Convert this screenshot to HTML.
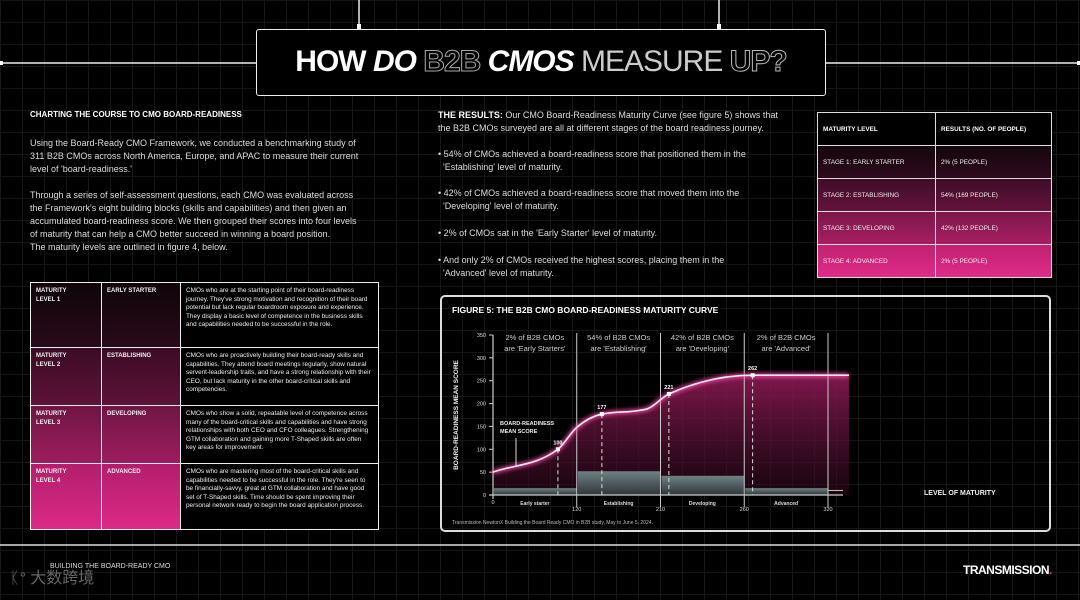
<!DOCTYPE html>
<html><head><meta charset="utf-8">
<style>
*{margin:0;padding:0;box-sizing:border-box}
body{width:1080px;height:600px;overflow:hidden;background:#000;position:relative;font-family:"Liberation Sans","Noto Sans CJK SC",sans-serif;color:#e8e8e8}
.grid{position:absolute;inset:0;background-image:linear-gradient(#161616 1px,transparent 1px),linear-gradient(90deg,#161616 1px,transparent 1px);background-size:22px 22px}
.abs{position:absolute}
.p{font-size:9px;line-height:13px;color:#ddd}
.h{font-size:8px;font-weight:bold;color:#fff}
table{border-collapse:collapse}
.lt td{border:1.5px solid #eee;vertical-align:top;padding:4px 5px;font-size:6.4px;line-height:8.6px;color:#eee}
.lt td.b{font-weight:bold;font-size:6px}
.rt td{border:1.5px solid #ddd;padding:0 5px;font-size:6.4px;color:#eee;height:33px}
</style></head><body>
<div class="grid"></div>

<svg class="abs" style="left:0;top:0" width="1080" height="600">
<line x1="0" y1="63" x2="256" y2="63" stroke="#eee" stroke-width="1.5"/>
<line x1="826" y1="63" x2="1080" y2="63" stroke="#eee" stroke-width="1.5"/>
<line x1="359" y1="0" x2="359" y2="30" stroke="#eee" stroke-width="1.5"/>
<line x1="719" y1="0" x2="719" y2="30" stroke="#eee" stroke-width="1.5"/>
<rect x="357" y="24" width="4" height="5" fill="#fff"/><rect x="717" y="24" width="4" height="5" fill="#fff"/>
<rect x="0" y="61" width="3" height="4" fill="#fff"/><rect x="1077" y="61" width="3" height="4" fill="#fff"/>
<line x1="0" y1="545" x2="1080" y2="545" stroke="#ddd" stroke-width="1.5"/>
</svg>

<div class="abs" style="left:256px;top:29px;width:570px;height:67px;border:1.5px solid #eee;border-radius:3px;background:#000;text-align:center;line-height:64px;font-size:30px;color:#fff;letter-spacing:-1px">
<b>HOW </b><b><i>DO</i></b> <b style="color:#000;-webkit-text-stroke:1px #aaa">B2B</b> <b><i>CMOS</i></b> <span style="font-weight:normal;color:#ccc">MEASURE</span> <b style="color:#000;-webkit-text-stroke:1px #bbb">UP?</b>
</div>

<div class="abs h" style="left:30px;top:110px">CHARTING THE COURSE TO CMO BOARD-READINESS</div>
<div class="abs p" style="left:30px;top:137px">Using the Board-Ready CMO Framework, we conducted a benchmarking study of<br>311 B2B CMOs across North America, Europe, and APAC to measure their current<br>level of 'board-readiness.'</div>
<div class="abs p" style="left:30px;top:189px">Through a series of self-assessment questions, each CMO was evaluated across<br>the Framework's eight building blocks (skills and capabilities) and then given an<br>accumulated board-readiness score. We then grouped their scores into four levels<br>of maturity that can help a CMO better succeed in winning a board position.<br>The maturity levels are outlined in figure 4, below.</div>

<table class="abs lt" style="left:30px;top:282px;width:349px;height:247px">
<tr style="height:65px;background:linear-gradient(#0e0509,#2a0a1a)"><td class="b" style="width:71px">MATURITY<br>LEVEL 1</td><td class="b" style="width:79px">EARLY STARTER</td><td style="background:#000">CMOs who are at the starting point of their board-readiness journey. They've strong motivation and recognition of their board potential but lack regular boardroom exposure and experience. They display a basic level of competence in the business skills and capabilities needed to be successful in the role.</td></tr>
<tr style="height:58px;background:linear-gradient(#3a0c24,#5e1238)"><td class="b">MATURITY<br>LEVEL 2</td><td class="b">ESTABLISHING</td><td style="background:#000">CMOs who are proactively building their board-ready skills and capabilities. They attend board meetings regularly, show natural servent-leadership traits, and have a strong relationship with their CEO, but lack maturity in the other board-critical skills and competencies.</td></tr>
<tr style="height:58px;background:linear-gradient(#6e1644,#9e1d5e)"><td class="b">MATURITY<br>LEVEL 3</td><td class="b">DEVELOPING</td><td style="background:#000">CMOs who show a solid, repeatable level of competence across many of the board-critical skills and capabilities and have strong relationships with both CEO and CFO colleagues. Strengthening GTM collaboration and gaining more T-Shaped skills are often key areas for improvement.</td></tr>
<tr style="height:66px;background:linear-gradient(#b21e6c,#dc2a86)"><td class="b">MATURITY<br>LEVEL 4</td><td class="b">ADVANCED</td><td style="background:#000">CMOs who are mastering most of the board-critical skills and capabilities needed to be successful in the role. They're seen to be financially-savvy, great at GTM collaboration and have good set of T-Shaped skills. Time should be spent improving their personal network ready to begin the board application process.</td></tr>
</table>

<div class="abs p" style="left:438px;top:109px"><b style="color:#fff">THE RESULTS:</b> Our CMO Board-Readiness Maturity Curve (see figure 5) shows that<br>the B2B CMOs surveyed are all at different stages of the board readiness journey.</div>
<div class="abs p" style="left:438px;top:148px">• 54% of CMOs achieved a board-readiness score that positioned them in the<br>&nbsp;&nbsp;'Establishing' level of maturity.</div>
<div class="abs p" style="left:438px;top:187px">• 42% of CMOs achieved a board-readiness score that moved them into the<br>&nbsp;&nbsp;'Developing' level of maturity.</div>
<div class="abs p" style="left:438px;top:227px">• 2% of CMOs sat in the 'Early Starter' level of maturity.</div>
<div class="abs p" style="left:438px;top:254px">• And only 2% of CMOs received the highest scores, placing them in the<br>&nbsp;&nbsp;'Advanced' level of maturity.</div>

<table class="abs rt" style="left:817px;top:112px;width:235px;height:165px">
<tr style="background:#000"><td style="width:118px;font-weight:bold;color:#fff">MATURITY LEVEL</td><td style="font-weight:bold;color:#fff">RESULTS (NO. OF PEOPLE)</td></tr>
<tr style="background:linear-gradient(#14060c,#2e0b1d)"><td>STAGE 1: EARLY STARTER</td><td>2% (5 PEOPLE)</td></tr>
<tr style="background:linear-gradient(#3e0d27,#66133d)"><td>STAGE 2: ESTABLISHING</td><td>54% (169 PEOPLE)</td></tr>
<tr style="background:linear-gradient(#7a1749,#aa1f64)"><td>STAGE 3: DEVELOPING</td><td>42% (132 PEOPLE)</td></tr>
<tr style="background:linear-gradient(#c0216f,#e02c88)"><td>STAGE 4: ADVANCED</td><td>2% (5 PEOPLE)</td></tr>
</table>

<div class="abs" style="left:440px;top:295px;width:611px;height:237px;border:2px solid #ddd;border-radius:5px"></div>
<div class="abs h" style="left:452px;top:305px;font-size:8.5px">FIGURE 5: THE B2B CMO BOARD-READINESS MATURITY CURVE</div>

<svg id="chart" class="abs" style="left:0;top:0" width="1080" height="600">
<defs>
<linearGradient id="area" x1="0" y1="0" x2="0" y2="1"><stop offset="0" stop-color="#8c1a55" stop-opacity="0.9"/><stop offset="1" stop-color="#2a0818" stop-opacity="0.6"/></linearGradient>
<linearGradient id="bar" x1="0" y1="0" x2="0" y2="1"><stop offset="0" stop-color="#6f8184"/><stop offset="1" stop-color="#2e3638"/></linearGradient>
<filter id="glow"><feGaussianBlur stdDeviation="2.2"/></filter>
</defs>
</svg>

<div class="abs" style="left:452px;top:520px;font-size:5px;color:#bbb">Transmission NewtonX Building the Board Ready CMO in B2B study, May to June 5, 2024.</div>

<div class="abs" style="left:10px;top:564px;font-size:16px;color:#666">ᛕᐤ 大数跨境</div>
<div class="abs" style="left:50px;top:563px;font-size:7px;color:#ddd">BUILDING THE BOARD-READY CMO</div>
<div class="abs" style="left:963px;top:563px;font-size:12px;font-weight:bold;color:#fff;letter-spacing:-0.5px">TRANSMISSION<span style="color:#e0307f">.</span></div>

<script>
const bandEdges=[0,120,210,260,320];
const bandNames=["Early starter","Establishing","Developing","Advanced"];
const bandHeaders=[["2% of B2B CMOs","are 'Early Starters'"],["54% of B2B CMOs","are 'Establishing'"],["42% of B2B CMOs","are 'Developing'"],["2% of B2B CMOs","are 'Advanced'"]];
const barValues=[15,52,42,15];
const yTicks=[0,50,100,150,200,250,300,350];
const curveX=[0,93,120,147,195,215,266,335];
const curveY=[50,100,148,177,188,221,262,262];
const markX=[93,147,215,266];
const markY=[100,177,221,262];
const markLabels=["100","177","221","262"];

const svg=document.getElementById('chart');
const NS='http://www.w3.org/2000/svg';
const X0=493,BW=83.75,Y0=495,YH=160;
function xs(v){let i=0;while(i<bandEdges.length-2&&v>bandEdges[i+1])i++;return X0+(i+(v-bandEdges[i])/(bandEdges[i+1]-bandEdges[i]))*BW;}
function ys(v){return Y0-v/350*YH;}
function mk(tag,attrs,parent){const e=document.createElementNS(NS,tag);for(const k in attrs)e.setAttribute(k,attrs[k]);(parent||svg).appendChild(e);return e;}
function txt(x,y,s,size,anchor,fill,weight){const t=mk('text',{x:x,y:y,'font-size':size,'text-anchor':anchor||'middle',fill:fill||'#ddd','font-family':'Liberation Sans, sans-serif','font-weight':weight||'normal'});t.textContent=s;return t;}

// monotone cubic curve in pixel space
const pts=curveX.map((x,i)=>[xs(x),ys(curveY[i])]);
const n=pts.length,dk=[],m=[];
for(let i=0;i<n-1;i++)dk.push((pts[i+1][1]-pts[i][1])/(pts[i+1][0]-pts[i][0]));
m[0]=dk[0];m[n-1]=dk[n-2];
for(let i=1;i<n-1;i++){m[i]=(dk[i-1]*dk[i]<=0)?0:(dk[i-1]+dk[i])/2;}
for(let i=0;i<n-1;i++){if(dk[i]===0){m[i]=0;m[i+1]=0;continue;}const a=m[i]/dk[i],b=m[i+1]/dk[i],s=a*a+b*b;if(s>9){const t=3/Math.sqrt(s);m[i]=t*a*dk[i];m[i+1]=t*b*dk[i];}}
let d='M'+pts[0][0]+','+pts[0][1];
for(let i=0;i<n-1;i++){const h=(pts[i+1][0]-pts[i][0])/3;
d+=' C'+(pts[i][0]+h)+','+(pts[i][1]+m[i]*h)+' '+(pts[i+1][0]-h)+','+(pts[i+1][1]-m[i+1]*h)+' '+pts[i+1][0]+','+pts[i+1][1];}
const area=mk('path',{d:d+' L'+pts[n-1][0]+','+Y0+' L'+pts[0][0]+','+Y0+' Z',fill:'url(#area)'});



barValues.forEach((v,i)=>{const r=mk('rect',{x:X0+i*BW+1,y:ys(v),width:BW-1,height:Y0-ys(v),fill:'url(#bar)'});

});

mk('line',{x1:X0,y1:ys(350),x2:X0,y2:Y0+4,stroke:'#ccc','stroke-width':1.2});
mk('line',{x1:X0-4,y1:Y0,x2:X0+4*BW+15,y2:Y0,stroke:'#ccc','stroke-width':1.2});
mk('line',{x1:X0+4*BW,y1:ys(10),x2:X0+4*BW+15,y2:ys(10),stroke:'#ccc','stroke-width':1});
yTicks.forEach(v=>{mk('line',{x1:X0-4,y1:ys(v),x2:X0,y2:ys(v),stroke:'#ccc'});
const t=txt(X0-7,ys(v)+2,String(v),5.5,'end','#ddd');

});
bandEdges.forEach((v,i)=>{const x=X0+i*BW;
if(i>0)mk('line',{x1:x,y1:ys(350)-2,x2:x,y2:Y0+12,stroke:'#ccc','stroke-width':1});
const t=txt(x,i==0?Y0+9:Y0+16,String(v),5.5,'middle','#ddd');

});
bandNames.forEach((nm,i)=>{const t=txt(X0+(i+0.5)*BW,Y0+10,nm,5,'middle','#ddd','bold');

});
bandHeaders.forEach((h,i)=>{const cx=X0+(i+0.5)*BW;
const a=txt(cx,ys(350)+5,h[0],7.5,'middle','#ccc');const b=txt(cx,ys(350)+16,h[1],7.5,'middle','#ccc');



});

mk('path',{d:d,fill:'none',stroke:'#ff4fa8','stroke-width':4,filter:'url(#glow)',opacity:0.9});
const line=mk('path',{d:d,fill:'none',stroke:'#ffe6f2','stroke-width':1.6});



markX.forEach((x,i)=>{const px=xs(x),py=ys(markY[i]);
mk('line',{x1:px,y1:py,x2:px,y2:Y0,stroke:'#ddd','stroke-width':1,'stroke-dasharray':'4,3'});
const c=mk('rect',{x:px-2,y:py-2,width:4,height:4,fill:'#fff'});


const t=txt(px,py-5,markLabels[i],5.5,'middle','#fff','bold');

});

const yt=txt(0,0,'BOARD-READINESS MEAN SCORE',6.5,'middle','#eee','bold');
yt.setAttribute('transform','translate(458,415) rotate(-90)');


txt(500,425,'BOARD-READINESS',5.5,'start','#eee','bold');
txt(500,433,'MEAN SCORE',5.5,'start','#eee','bold');
mk('line',{x1:516,y1:438,x2:516,y2:466,stroke:'#ddd'});
const xt=txt(924,495,'LEVEL OF MATURITY',7,'start','#eee','bold');


</script>
</body></html>
